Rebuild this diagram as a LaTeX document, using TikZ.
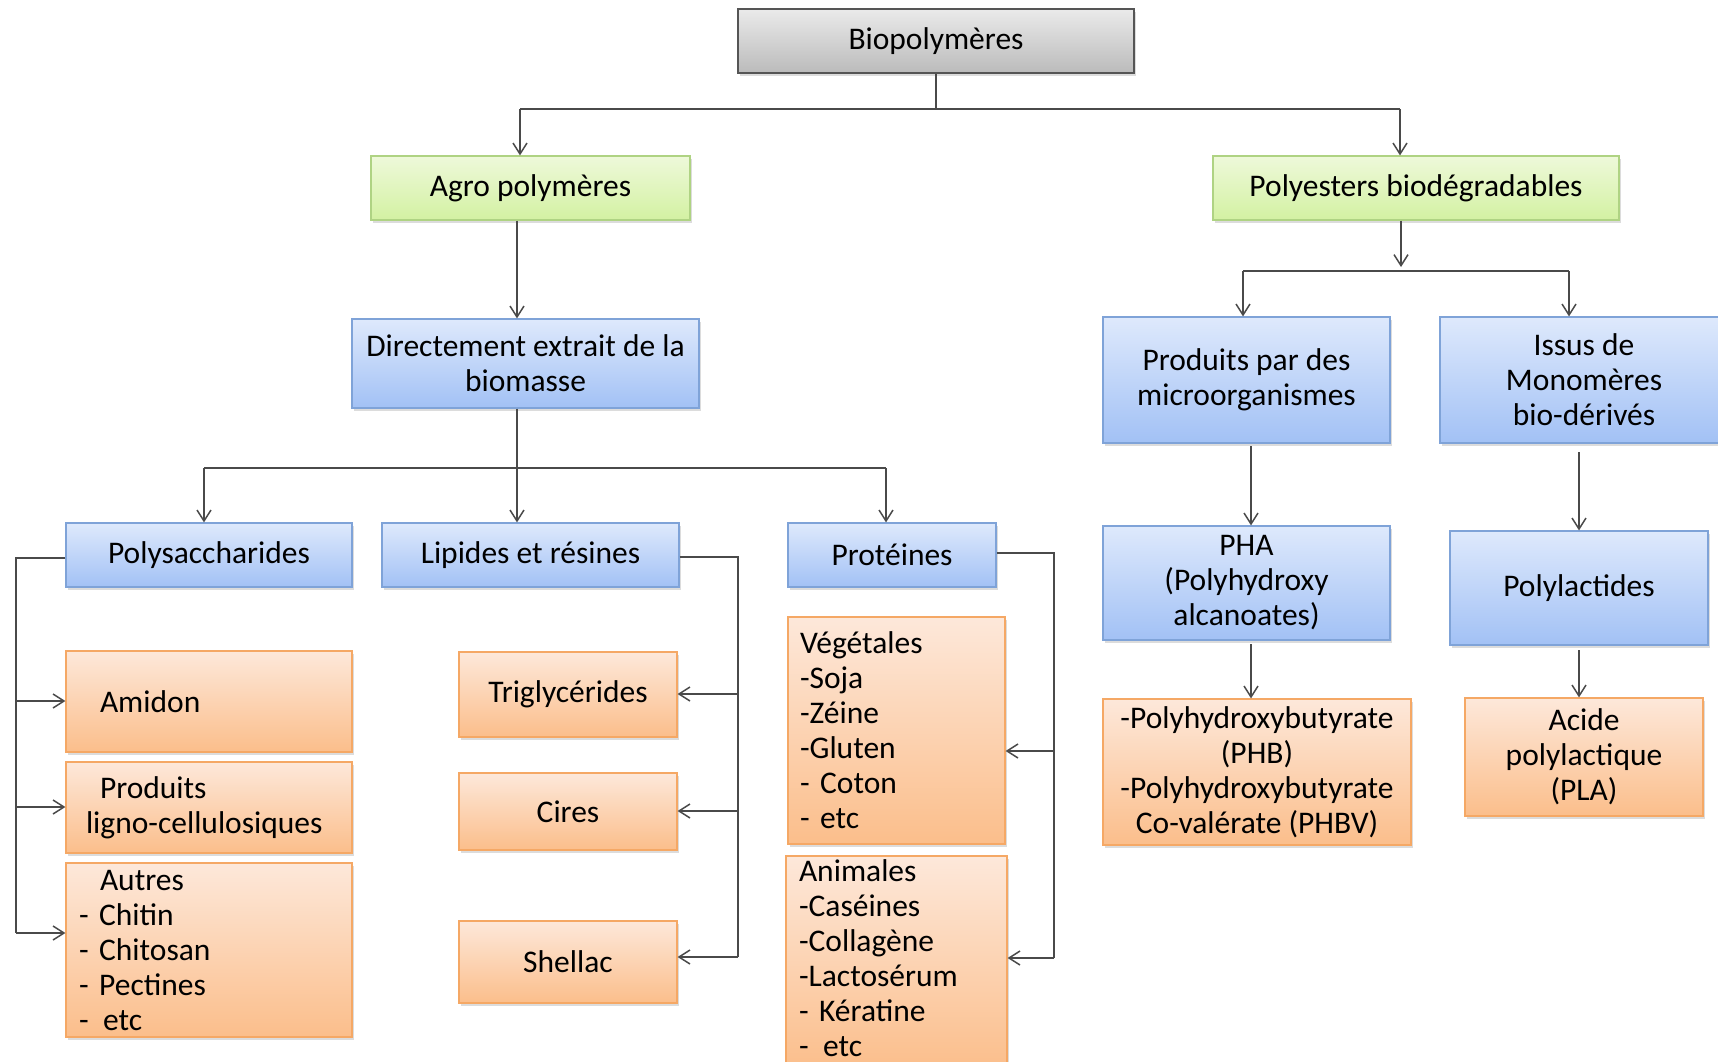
\documentclass[tikz,border=0pt]{standalone}
\usepackage{fontspec}
\setmainfont{Carlito}
\usetikzlibrary{arrows.meta,shadows,calc}
\definecolor{grTop}{HTML}{EEF9DA}
\definecolor{grBot}{HTML}{D3F1A2}
\definecolor{grLine}{HTML}{AFD383}
\definecolor{blTop}{HTML}{DEE9FC}
\definecolor{blBot}{HTML}{A2C1F5}
\definecolor{blLine}{HTML}{7FA3D8}
\definecolor{orTop}{HTML}{FDE8DA}
\definecolor{orBot}{HTML}{FBBE8B}
\definecolor{orLine}{HTML}{F5A865}
\definecolor{gyTop}{HTML}{EAEAEA}
\definecolor{gyBot}{HTML}{BBBBBB}
\definecolor{gyLine}{HTML}{555555}
\definecolor{conn}{HTML}{4A4A4A}
\tikzset{
  box/.style={draw, line width=1.2pt, align=center, inner sep=0pt,
    font=\fontsize{31.5}{35}\selectfont,
    drop shadow={shadow xshift=2pt, shadow yshift=-3pt, opacity=0.28}},
  graybox/.style={box, draw=gyLine, top color=gyTop, bottom color=gyBot},
  greenbox/.style={box, draw=grLine, top color=grTop, bottom color=grBot},
  bluebox/.style={box, draw=blLine, top color=blTop, bottom color=blBot},
  orangebox/.style={box, draw=orLine, top color=orTop, bottom color=orBot},
  conline/.style={draw=conn, line width=1.5pt},
  arr/.style={conline, -{Straight Barb[length=11pt,width=14pt]}}
}
\begin{document}
\begin{tikzpicture}[x=1pt,y=-1pt]
\useasboundingbox (0,0) rectangle (1718,1061);

% ---- nodes ----
\node[graybox, minimum width=396pt, minimum height=64pt] (bio) at (936,41) {Biopolymères};
\node[greenbox, minimum width=319pt, minimum height=64pt] (agro) at (530.5,188) {Agro polymères};
\node[greenbox, minimum width=406pt, minimum height=64pt] (poly) at (1416,188) {Polyesters biodégradables};
\node[bluebox, minimum width=347pt, minimum height=89pt] (direct) at (525.5,363.5) {Directement extrait de la\\biomasse};

\node[bluebox, minimum width=286pt, minimum height=64pt] (sacch) at (209,555) {Polysaccharides};
\node[bluebox, minimum width=297pt, minimum height=64pt] (lip) at (530.5,555) {Lipides et résines};
\node[bluebox, minimum width=208pt, minimum height=64pt] (prot) at (892,555) {Protéines};

\node[orangebox, minimum height=101pt, inner xsep=34pt, text width=218pt, align=left] (amidon) at (209,701.5) {Amidon};
\node[orangebox, minimum height=91pt, inner xsep=20pt, text width=246pt, align=left] (ligno) at (209,807.5) {\hspace*{14pt}Produits\\ligno-cellulosiques};
\node[orangebox, minimum height=174pt, inner xsep=13pt, text width=260pt, align=left] (autres) at (209,950) {\hspace*{21pt}Autres\\- Chitin\\- Chitosan\\- Pectines\\- \hspace{4pt}etc};

\node[orangebox, minimum width=218pt, minimum height=85pt] (trig) at (568,694.5) {Triglycérides};
\node[orangebox, minimum width=218pt, minimum height=77pt] (cires) at (568,811.5) {Cires};
\node[orangebox, minimum width=218pt, minimum height=82pt] (shellac) at (568,962) {Shellac};

\node[orangebox, minimum height=227pt, inner xsep=12pt, text width=193pt, align=left] (veg) at (896.5,730.5) {Végétales\\-Soja\\-Zéine\\-Gluten\\- Coton\\- etc};
\node[orangebox, minimum height=214pt, inner xsep=13pt, text width=195pt, align=left] (anim) at (896.5,963) {Animales\\-Caséines\\-Collagène\\-Lactosérum\\- Kératine\\- \hspace{4pt}etc\rule[-10pt]{0pt}{1pt}};

\node[bluebox, minimum width=287pt, minimum height=126pt] (micro) at (1246.5,380) {Produits par des\\microorganismes};
\node[bluebox, minimum width=288pt, minimum height=126pt] (issus) at (1584,380) {Issus de\\Monomères\\bio-dérivés};
\node[bluebox, minimum width=287pt, minimum height=114pt] (pha) at (1246.5,583) {PHA\\(Polyhydroxy\\alcanoates)};
\node[bluebox, minimum width=258pt, minimum height=114pt] (plact) at (1579,588) {Polylactides};
\node[orangebox, minimum width=308pt, minimum height=146pt] (phb) at (1257,772) {-Polyhydroxybutyrate\\(PHB)\\-Polyhydroxybutyrate\\Co-valérate (PHBV)};
\node[orangebox, minimum width=238pt, minimum height=118pt] (pla) at (1584,757) {Acide\\polylactique\\(PLA)};

% ---- connectors: top ----
\coordinate (tL) at (520,109);
\coordinate (tR) at (1400,109);
\draw[conline] (bio.south) -- (bio.south |- tL);
\draw[conline] (tL) -- (tR);
\draw[arr] (tL) -- (tL |- agro.north);
\draw[arr] (tR) -- (tR |- poly.north);

% agro -> direct
\coordinate (ax) at (517,468);
\draw[arr] (ax |- agro.south) -- (ax |- direct.north);

% direct -> three
\coordinate (dL) at (204,468);
\coordinate (dR) at (886,468);
\draw[conline] (ax |- direct.south) -- (ax);
\draw[conline] (dL) -- (dR);
\draw[arr] (dL) -- (dL |- sacch.north);
\draw[arr] (ax) -- (ax |- lip.north);
\draw[arr] (dR) -- (dR |- prot.north);

% polysaccharides bracket
\coordinate (s0) at (16,558);
\coordinate (s1) at (16,701);
\coordinate (s2) at (16,807);
\coordinate (s3) at (16,933);
\draw[conline] (s0 -| sacch.west) -- (s0) -- (s3);
\draw[arr] (s1) -- (s1 -| amidon.west);
\draw[arr] (s2) -- (s2 -| ligno.west);
\draw[arr] (s3) -- (s3 -| autres.west);

% lipides bracket
\coordinate (l0) at (738,557);
\coordinate (l1) at (738,694);
\coordinate (l2) at (738,811);
\coordinate (l3) at (738,957);
\draw[conline] (l0 -| lip.east) -- (l0) -- (l3);
\draw[arr] (l1) -- (l1 -| trig.east);
\draw[arr] (l2) -- (l2 -| cires.east);
\draw[arr] (l3) -- (l3 -| shellac.east);

% proteines bracket
\coordinate (p0) at (1054,553);
\coordinate (p1) at (1054,751);
\coordinate (p2) at (1054,958);
\draw[conline] (p0 -| prot.east) -- (p0) -- (p2);
\draw[arr] (p1) -- (p1 -| veg.east);
\draw[arr] (p2) -- (p2 -| anim.east);

% polyesters
\coordinate (px) at (1401,267);
\coordinate (pL) at (1243,271);
\coordinate (pR) at (1569,271);
\draw[arr] (px |- poly.south) -- (px);
\draw[conline] (pL) -- (pR);
\draw[arr] (pL) -- (pL |- micro.north);
\draw[arr] (pR) -- (pR |- issus.north);

% right columns
\coordinate (mx) at (1251,446);
\coordinate (mx2) at (1251,644);
\draw[arr] (mx) -- (mx |- pha.north);
\draw[arr] (mx2) -- (mx2 |- phb.north);
\coordinate (ix) at (1579,452);
\coordinate (ix2) at (1579,650);
\draw[arr] (ix) -- (ix |- plact.north);
\draw[arr] (ix2) -- (ix2 |- pla.north);
\end{tikzpicture}
\end{document}
